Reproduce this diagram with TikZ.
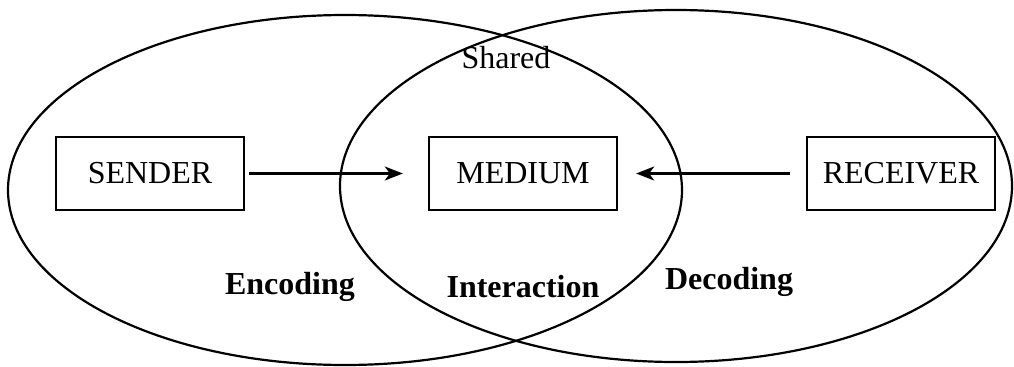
\documentclass[tikz,border=0pt]{standalone}
\usepackage{fontspec}
\setmainfont{Liberation Serif}
\usetikzlibrary{arrows.meta,positioning,shapes.geometric}
\tikzstyle{party} = [rectangle, minimum width=94pt, minimum height=36.5pt, text centered, draw=black, line width=1.2pt, font=\fontsize{16}{19}\selectfont]
\tikzstyle{area} = [font=\fontsize{16}{19}\selectfont\bfseries]
\tikzstyle{arrow} = [line width=1.1pt,-{Stealth[length=9pt,width=7pt,inset=2.5pt]}]

\begin{document}
\begin{tikzpicture}[x=0.5pt,y=0.5pt]
\useasboundingbox (0,0) rectangle (1014,366);
% the two fields of experience
\draw [line width=1.1pt] (345,176) ellipse [x radius=337, y radius=175];
\draw [line width=1.1pt] (676,180) ellipse [x radius=336, y radius=176];
% boxes
\node (sender) [party] at (150,192.5) {SENDER};
\node (medium) [party] at (523,192.5) {MEDIUM};
\node (receiver) [party] at (901,192.5) {RECEIVER};
\draw [arrow,shorten <=2pt,shorten >=12.5pt] (sender) -- (medium);
\draw [arrow,shorten <=8pt,shorten >=9pt] (receiver) -- (medium);
% labels
\node (shared) at (506,308) {\fontsize{16}{19}\selectfont Shared};
\node (enc) [area] at (290,79) {Encoding};
\node (inter) [area] at (523,79) {Interaction};
\node (dec) [area] at (729,84) {Decoding};
\end{tikzpicture}
\end{document}
